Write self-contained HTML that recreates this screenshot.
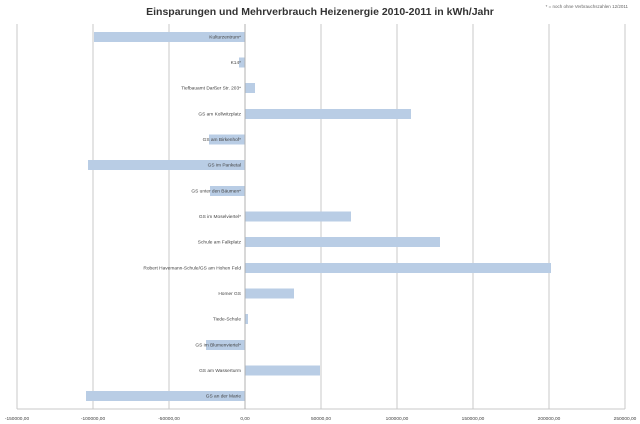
<!DOCTYPE html>
<html><head><meta charset="utf-8"><style>
html,body{margin:0;padding:0;background:#fff;}
svg{display:block;font-family:"Liberation Sans",sans-serif;}
</style></head><body>
<svg width="640" height="424" viewBox="0 0 640 424" xmlns="http://www.w3.org/2000/svg">
<text x="320" y="15" text-anchor="middle" font-size="10.5" font-weight="bold" fill="#333">Einsparungen und Mehrverbrauch Heizenergie 2010-2011  in kWh/Jahr</text>
<text x="628" y="8" text-anchor="end" font-size="4.5" fill="#666">* = noch ohne Verbrauchszahlen 12/2011</text>
<g stroke="#c8c8c8" stroke-width="1">
<line x1="17" y1="24" x2="17" y2="409"/><line x1="93" y1="24" x2="93" y2="409"/>
<line x1="169" y1="24" x2="169" y2="409"/><line x1="321" y1="24" x2="321" y2="409"/>
<line x1="397" y1="24" x2="397" y2="409"/><line x1="473" y1="24" x2="473" y2="409"/>
<line x1="549" y1="24" x2="549" y2="409"/><line x1="625" y1="24" x2="625" y2="409"/>
<line x1="17" y1="409" x2="625" y2="409"/>
</g>
<g fill="#b9cde5">
<rect x="94" y="32" width="151" height="10"/>
<rect x="239" y="57.5" width="6" height="10"/>
<rect x="245" y="83" width="10" height="10"/>
<rect x="245" y="109" width="166" height="10"/>
<rect x="209" y="134.5" width="36" height="10"/>
<rect x="88" y="160" width="157" height="10"/>
<rect x="210" y="186" width="35" height="10"/>
<rect x="245" y="211.5" width="106" height="10"/>
<rect x="245" y="237" width="195" height="10"/>
<rect x="245" y="263" width="306" height="10"/>
<rect x="245" y="288.5" width="49" height="10"/>
<rect x="245" y="314" width="3" height="10"/>
<rect x="206" y="340" width="39" height="10"/>
<rect x="245" y="365.5" width="75" height="10"/>
<rect x="86" y="391" width="159" height="10"/>
</g>
<line x1="245" y1="24" x2="245" y2="409" stroke="#b0b0b0"/>
<g font-size="4.8" fill="#444" text-anchor="end">
<text x="241" y="38.5">Kulturzentrum*</text>
<text x="241" y="64">K14*</text>
<text x="241" y="89.5">Tiefbauamt Darßer Str. 203*</text>
<text x="241" y="115.5">GS am Kollwitzplatz</text>
<text x="241" y="141">GS am Birkenhof*</text>
<text x="241" y="166.5">GS im Panketal</text>
<text x="241" y="192.5">GS unter den Bäumen*</text>
<text x="241" y="218">GS im Moselviertel*</text>
<text x="241" y="243.5">Schule am Falkplatz</text>
<text x="241" y="269.5">Robert Havemann-Schule/GS am Hohen Feld</text>
<text x="241" y="295">Homer GS</text>
<text x="241" y="320.5">Tiede-Schule</text>
<text x="241" y="346.5">GS im Blumenviertel*</text>
<text x="241" y="372">GS am Wasserturm</text>
<text x="241" y="397.5">GS an der Marie</text>
</g>
<g font-size="4.8" fill="#444" text-anchor="middle">
<text x="17" y="420">-150000,00</text><text x="93" y="420">-100000,00</text>
<text x="169" y="420">-50000,00</text><text x="245" y="420">0,00</text>
<text x="321" y="420">50000,00</text><text x="397" y="420">100000,00</text>
<text x="473" y="420">150000,00</text><text x="549" y="420">200000,00</text>
<text x="625" y="420">250000,00</text>
</g>
</svg>
</body></html>
